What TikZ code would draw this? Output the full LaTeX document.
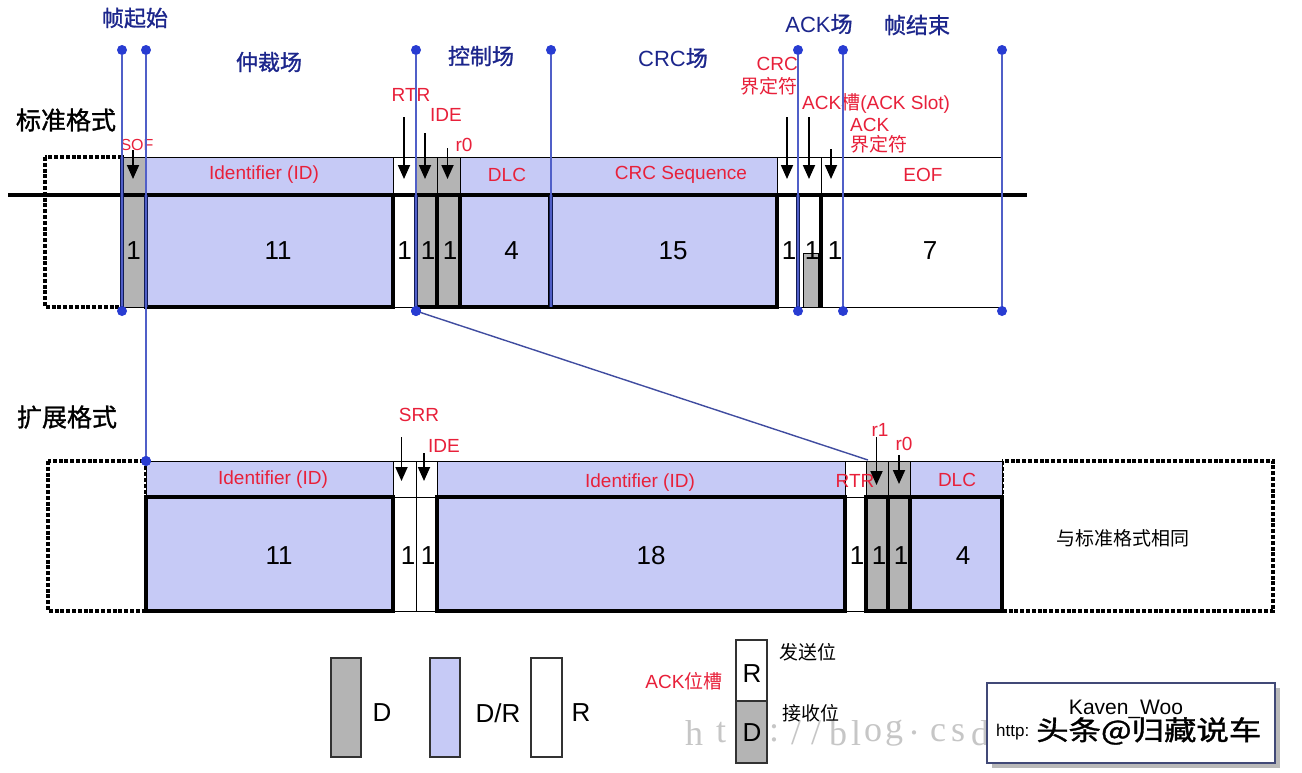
\documentclass[tikz,border=0pt]{standalone}
\usepackage{fontspec}
\setmainfont{Liberation Sans}
\newfontfamily\cjk{Noto Sans CJK SC}
\newfontfamily\cjkb[FakeBold=1.2]{Noto Sans CJK SC}
\newfontfamily\wmserif{Liberation Serif}
\usetikzlibrary{arrows.meta}
\definecolor{blueF}{RGB}{198,202,246}
\definecolor{grayF}{RGB}{180,180,180}
\definecolor{navyT}{RGB}{28,38,140}
\definecolor{redT}{RGB}{232,32,58}
\definecolor{lineB}{RGB}{80,95,200}
\definecolor{dotB}{RGB}{40,60,210}
\definecolor{navyBar}{RGB}{18,28,85}
\definecolor{legB}{RGB}{50,50,50}
\begin{document}
\begin{tikzpicture}[x=1pt,y=-1pt,
  thinb/.style={draw=black,line width=1pt},
  thickb/.style={draw=black,line width=3.5pt},
  dashbox/.style={draw=black,line width=3.4pt,dash pattern=on 4pt off 1.8pt},
  redlab/.style={text=redT,font=\fontsize{19}{21}\selectfont,inner sep=0pt},
  numlab/.style={font=\fontsize{26}{28}\selectfont,inner sep=0pt},
  hdr/.style={text=navyT,font=\fontsize{22}{24}\selectfont,inner sep=0pt},
  rowlab/.style={font=\cjkb\fontsize{25}{27}\selectfont,inner sep=0pt},
  blk/.style={font=\cjk\fontsize{19}{21}\selectfont,inner sep=0pt},
  leglab/.style={font=\fontsize{26}{28}\selectfont,inner sep=0pt},
  arr/.style={-{Triangle[width=12pt,length=14pt]},line width=1.8pt,black},
  vline/.style={draw=lineB,line width=1.6pt},
  navybar/.style={draw=navyBar,line width=4pt},
  dot/.style={circle,fill=dotB,inner sep=0pt,minimum size=10pt},
  wm/.style={text=gray!45,font=\wmserif\fontsize{36}{38}\selectfont,inner sep=0pt}
]
\useasboundingbox (0,0) rectangle (1302,772);
\fill[white] (0,0) rectangle (1302,772);

% ================= standard frame =================
\draw[dashbox] (45,157) rectangle (122,307);
% upper band
\foreach \a/\b/\c in {122/145/grayF,145/393/blueF,393/416/white,416/437/grayF,437/460/grayF,460/550/blueF,550/777/blueF,777/798/white,798/821/white,821/843/white,843/1002/white}
  {\filldraw[thinb,fill=\c] (\a,157) rectangle (\b,195);}
% lower band, thin cells
\foreach \a/\b/\c in {122/145/grayF,393/416/white,777/798/white,798/821/white,821/843/white,843/1002/white}
  {\filldraw[thinb,fill=\c] (\a,195) rectangle (\b,307);}
\filldraw[thinb,fill=grayF] (803,253) rectangle (818,307);
% lower band, thick cells
\foreach \a/\b/\c in {146/393/blueF,416/437/grayF,437/460/grayF,460/550/blueF,550/777/blueF}
  {\filldraw[thickb,fill=\c] (\a,195) rectangle (\b,307);}
\draw[thickb] (821,195) -- (821,307);
% bus line
\coordinate (busL) at (8,195);
\coordinate (busR) at (1027,195);
\draw[line width=4pt] (busL) -- (busR);

% field labels
\node[redlab] (tID) at (264,175) {Identifier (ID)};
\node[redlab] (tDLC) at (507,175) {DLC};
\node[redlab] (tCRC) at (681,175) {CRC Sequence};
\node[redlab] (tEOF) at (923,175) {EOF};
% bit counts
\node[numlab] (n1) at (133.5,251) {1};
\node[numlab] (n2) at (278,251) {11};
\node[numlab] (n3) at (404.5,251) {1};
\node[numlab] (n4) at (428,251) {1};
\node[numlab] (n5) at (450,251) {1};
\node[numlab] (n6) at (511.5,251) {4};
\node[numlab] (n7) at (673,251) {15};
\node[numlab] (n8) at (789,251) {1};
\node[numlab] (n9) at (812,251) {1};
\node[numlab] (n10) at (835,251) {1};
\node[numlab] (n11) at (930,251) {7};

% red bit labels
\node[redlab,font=\fontsize{16}{18}\selectfont] (lSOF) at (137,145) {SOF};
\node[redlab] (lRTR) at (411,95) {RTR};
\node[redlab] (lIDE) at (446,115) {IDE};
\node[redlab] (lr0) at (464,145) {r0};
\node[redlab,anchor=east] (lCRC1) at (798,64) {CRC};
\node[redlab,anchor=east] (lCRC2) at (798,86) {\cjk 界定符};
\node[redlab,anchor=west] (lACK1) at (802,103) {ACK{\cjk 槽}(ACK Slot)};
\node[redlab,anchor=west] (lACK2) at (850,125) {ACK};
\node[redlab,anchor=west] (lACK3) at (850,144) {\cjk 界定符};
% arrows
\foreach \n/\x/\ys in {aSOF/133/150,aRTR/404/117,aIDE/425/133,ar0/447.5/148,aCD/787/117,aAS/809/117,aAD/831/149}
  {\coordinate (\n s) at (\x,\ys); \coordinate (\n e) at (\x,179);
   \draw[arr] (\n s) -- (\n e);}

% headers
\node[hdr] (h1) at (135,18) {\cjkb 帧起始};
\node[hdr] (h2) at (269,62) {\cjkb 仲裁场};
\node[hdr] (h3) at (481,56) {\cjkb 控制场};
\node[hdr] (h4) at (673,58) {CRC{\cjkb 场}};
\node[hdr] (h5) at (819,24) {ACK{\cjkb 场}};
\node[hdr] (h6) at (917,25) {\cjkb 帧结束};
\node[rowlab] (r1) at (66,120) {标准格式};
\node[rowlab] (r2) at (67,417) {扩展格式};

% ================= extended frame =================
\draw[dashbox] (48,461) rectangle (146,611);
\draw[dashbox] (1002,461) rectangle (1273,611);
\foreach \a/\b/\c in {146/393/blueF,393/416/white,416/437/white,437/845/blueF,845/866/white,866/888/grayF,888/910/grayF,910/1002/blueF}
  {\filldraw[thinb,fill=\c] (\a,461) rectangle (\b,497);}
\foreach \a/\b/\c in {393/416/white,416/437/white,845/866/white}
  {\filldraw[thinb,fill=\c] (\a,497) rectangle (\b,611);}
\foreach \a/\b/\c in {146/393/blueF,437/845/blueF,866/888/grayF,888/910/grayF,910/1002/blueF}
  {\filldraw[thickb,fill=\c] (\a,497) rectangle (\b,611);}

\node[redlab] (eID1) at (273,480) {Identifier (ID)};
\node[redlab] (eID2) at (640,483) {Identifier (ID)};
\node[redlab] (eRTR) at (855,481) {RTR};
\node[redlab] (eDLC) at (957,480) {DLC};
\node[redlab] (eSRR) at (419,415) {SRR};
\node[redlab] (eIDE) at (444,446) {IDE};
\node[redlab] (er1) at (880,430) {r1};
\node[redlab] (er0) at (904,444) {r0};
\node[blk] (same) at (1123,538) {与标准格式相同};

\node[numlab] (m1) at (279,556) {11};
\node[numlab] (m2) at (408,556) {1};
\node[numlab] (m3) at (428,556) {1};
\node[numlab] (m4) at (651,556) {18};
\node[numlab] (m5) at (857,556) {1};
\node[numlab] (m6) at (879,556) {1};
\node[numlab] (m7) at (901,556) {1};
\node[numlab] (m8) at (963,556) {4};

\foreach \n/\x/\ys/\ye in {bSRR/401.5/437/481,bIDE/424/453/481,br1/876.5/437/485,br0/899/455/484}
  {\coordinate (\n s) at (\x,\ys); \coordinate (\n e) at (\x,\ye);
   \draw[arr] (\n s) -- (\n e);}

% ================= navy bars & blue lines =================
\draw[navybar] (122,157) -- (122,307);
\foreach \x in {146,416,551,798}
  {\draw[navybar] (\x,195) -- (\x,307);}

\foreach \n/\x in {d1/122,d3/416,d5/798,d6/843,d7/1002}
  {\node[dot] (\n t) at (\x,50) {};
   \node[dot] (\n b) at (\x,311) {};
   \draw[vline] (\n t) -- (\n b);}
\node[dot] (d2t) at (146,50) {};
\node[dot] (d2b) at (146,461) {};
\draw[vline] (d2t) -- (d2b);
\node[dot] (d4t) at (551,50) {};
\coordinate (d4b) at (551,307);
\draw[vline] (d4t) -- (d4b);
\coordinate (diagE) at (868,460);
\draw[draw=lineB!80!black,line width=1.4pt] (d3b.center) -- (diagE);
\node[dot] at (d3b) {};
\node[dot] at (d2b) {};

% ================= legend =================
\foreach \n/\x in {h/694,t/721,:/774,{/}/796,{/}/816,b/838,l/856,o/873,g/894,./914,c/938,s/958,d/980}
  {\node[wm] at (\x,733) {\n};}

\filldraw[draw=legB,line width=2.5pt,fill=grayF] (331,658) rectangle (361,757);
\filldraw[draw=legB,line width=2.5pt,fill=blueF] (430,658) rectangle (460,757);
\filldraw[draw=legB,line width=2.5pt,fill=white] (531,658) rectangle (562,757);
\node[leglab] (gD) at (382,713) {D};
\node[leglab] (gDR) at (498,713) {D/R};
\node[leglab] (gR) at (581,713) {R};

\node[redlab] (ackslot) at (684,681) {ACK{\cjk 位槽}};
\filldraw[draw=legB,line width=2.5pt,fill=white] (736,640) rectangle (767,701);
\filldraw[draw=legB,line width=2.5pt,fill=grayF] (736,701) rectangle (767,763);
\node[leglab] (aR) at (752,674) {R};
\node[leglab] (aD) at (752,733) {D};
\node[blk] (send) at (808,652) {发送位};
\node[blk] (recv) at (811,713) {接收位};

% signature box
\fill[gray!55] (992,688) rectangle (1280,768);
\filldraw[draw=navyBar!80,line width=1.5pt,fill=white] (987,683) rectangle (1275,763);
\node[inner sep=0pt,font=\fontsize{21}{23}\selectfont] (kw) at (1126,709) {Kaven\_Woo};
\node[inner sep=0pt,font=\fontsize{17}{19}\selectfont,anchor=west] (http) at (996,732) {http:};
\node[inner sep=0pt,font=\cjkb\fontsize{27}{29}\selectfont,anchor=west] (tt) at (1036,731) {\scalebox{1.2}[1]{头条@归藏说车}};
\end{tikzpicture}
\end{document}
